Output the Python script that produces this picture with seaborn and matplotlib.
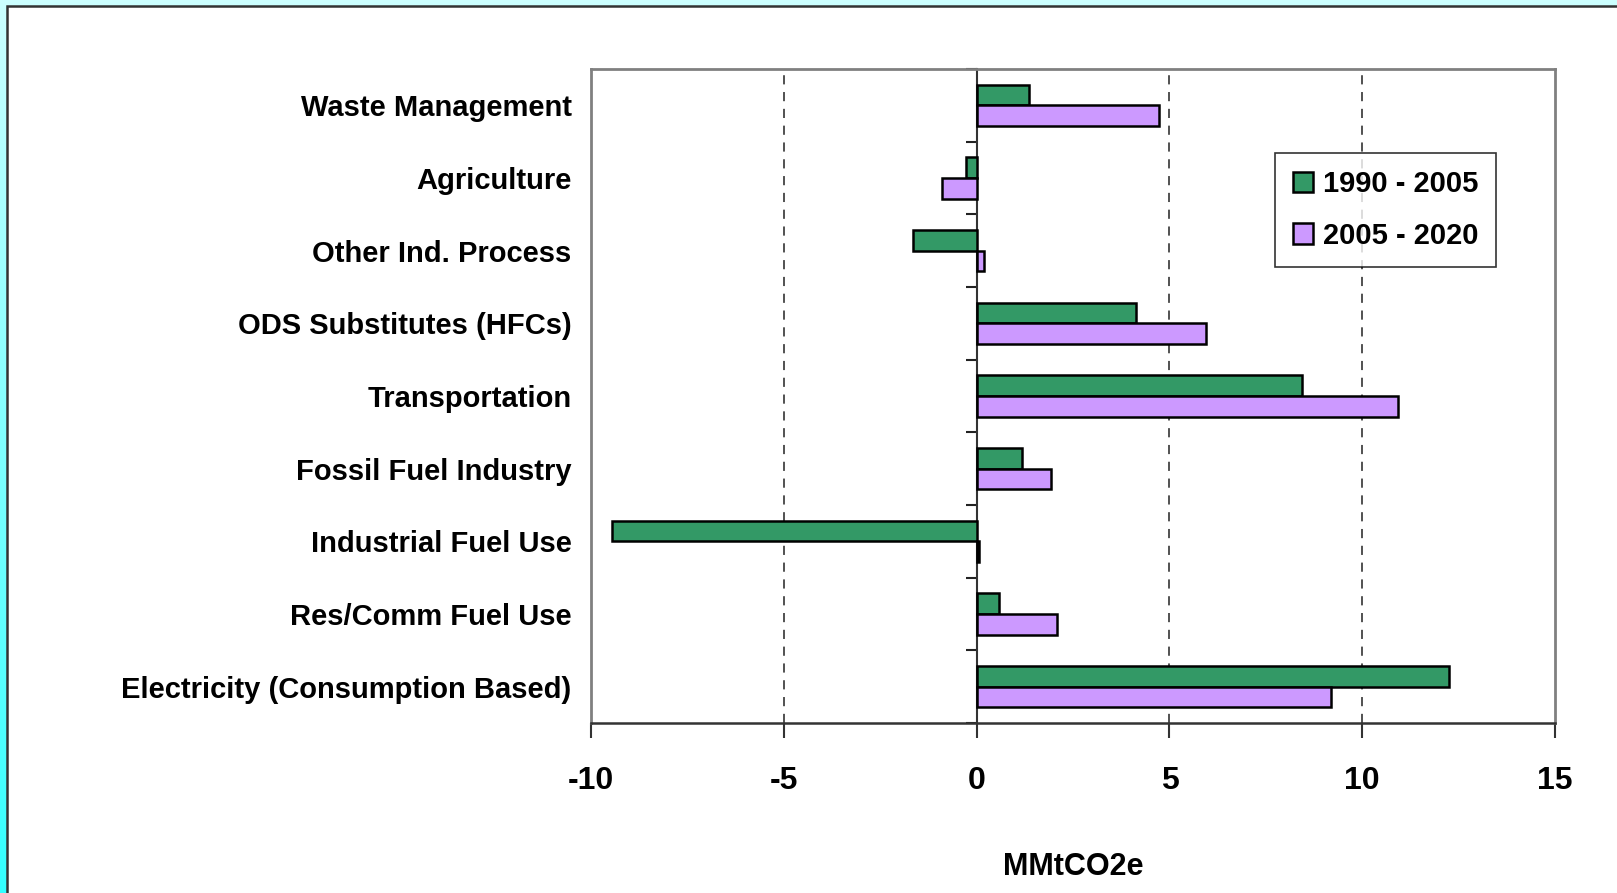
import numpy as np
import pandas as pd
import matplotlib
matplotlib.use('Agg')
import matplotlib.pyplot as plt
from matplotlib import font_manager
from matplotlib.patches import Rectangle
import seaborn as sns

# 데이터 (그림에서 읽은 값, MMtCO2e)
categories = ['Waste Management', 'Agriculture', 'Other Ind. Process',
              'ODS Substitutes (HFCs)', 'Transportation', 'Fossil Fuel Industry',
              'Industrial Fuel Use', 'Res/Comm Fuel Use', 'Electricity (Consumption Based)']
change_1990_2005 = [1.36, -0.27, -1.64, 4.13, 8.45, 1.18, -9.46, 0.58, 12.24]
change_2005_2020 = [4.73, -0.89, 0.19, 5.95, 10.94, 1.93, 0.05, 2.08, 9.19]
periods = ['1990 - 2005', '2005 - 2020']
x_ticks = [-10, -5, 0, 5, 10, 15]

df = pd.DataFrame({
    'category': categories * 2,
    'period': [periods[0]] * len(categories) + [periods[1]] * len(categories),
    'value': change_1990_2005 + change_2005_2020,
})

sns.set_style('white')
names = {f.name for f in font_manager.fontManager.ttflist}
fam = 'Liberation Sans Narrow' if 'Liberation Sans Narrow' in names else 'Liberation Sans'
plt.rcParams['font.family'] = [fam, 'DejaVu Sans']
plt.rcParams['font.weight'] = 'bold'
plt.rcParams['text.color'] = 'black'
plt.rcParams['axes.labelcolor'] = 'black'
plt.rcParams['xtick.labelcolor'] = 'black'
plt.rcParams['ytick.labelcolor'] = 'black'

fig = plt.figure(figsize=(16.17, 8.93), dpi=100)

# 배경: 청록색 그라데이션 + 흰 패널
bg = fig.add_axes([0, 0, 1, 1], zorder=-10)
grad = np.linspace(0, 1, 256).reshape(-1, 1)
cmap = matplotlib.colors.LinearSegmentedColormap.from_list('cy', ['#ccffff', '#33ffff'])
bg.imshow(grad, aspect='auto', cmap=cmap, extent=[0, 1, 0, 1], origin='upper')
bg.add_patch(Rectangle((7 / 1617, -0.01), 1, 1 - 6 / 893 + 0.01, facecolor='white',
                       edgecolor='#333333', linewidth=1.8))
bg.set_xlim(0, 1)
bg.set_ylim(0, 1)
bg.axis('off')

ax = fig.add_axes([591 / 1617, 1 - 723 / 893, 964 / 1617, 654 / 893])
ax.set_facecolor('none')
sns.barplot(data=df, x='value', y='category', hue='period', orient='h',
            palette=['#339966', '#cc99ff'], saturation=1, edgecolor='black', linewidth=1.8,
            width=0.57, dodge=True, ax=ax, zorder=3)

ax.set_xlim(-10, 15)
ax.set_ylim(len(categories) - 0.5, -0.5)
ax.set_xticks(x_ticks)
ax.set_xticklabels([str(t) for t in x_ticks], fontsize=23, fontweight='bold')
ax.tick_params(axis='x', direction='out', length=11, width=1.5, color='#333333', pad=20,
               bottom=True)
ax.tick_params(axis='y', length=0, pad=14, labelsize=21)
for lab in ax.get_yticklabels():
    lab.set_fontweight('bold')

# 세로 점선 격자
for t in x_ticks[1:-1]:
    if t != 0:
        ax.axvline(t, color='#222222', linestyle=(0, (6, 5)), linewidth=1.1, zorder=1)

for s in ['top', 'right', 'left']:
    ax.spines[s].set_color('#808080')
    ax.spines[s].set_linewidth(2)
ax.spines['bottom'].set_color('#333333')
ax.spines['bottom'].set_linewidth(1.8)

# 0 위치의 세로축과 범주 경계 눈금
zero_frac = (0 - x_ticks[0]) / (x_ticks[-1] - x_ticks[0])
sec = ax.secondary_yaxis(zero_frac)
sec.set_yticks(np.arange(-0.5, len(categories), 1.0))
sec.set_yticklabels([])
sec.tick_params(direction='out', length=8, width=1.5, color='#222222')
sec.spines['left'].set_color('#333333')
sec.spines['left'].set_linewidth(1.5)

ax.set_xlabel('MMtCO2e', fontsize=22, fontweight='bold', labelpad=40)
ax.set_ylabel('')

leg = ax.legend(loc='upper right', bbox_to_anchor=(0.939, 0.872), borderaxespad=0,
                fontsize=21, frameon=True, fancybox=False, edgecolor='black',
                handlelength=0.7, handleheight=0.7, handletextpad=0.35,
                borderpad=0.6, labelspacing=0.8)
leg.get_frame().set_linewidth(1.2)
for t in leg.get_texts():
    t.set_fontweight('bold')

fig.savefig('out.png', dpi=100)
